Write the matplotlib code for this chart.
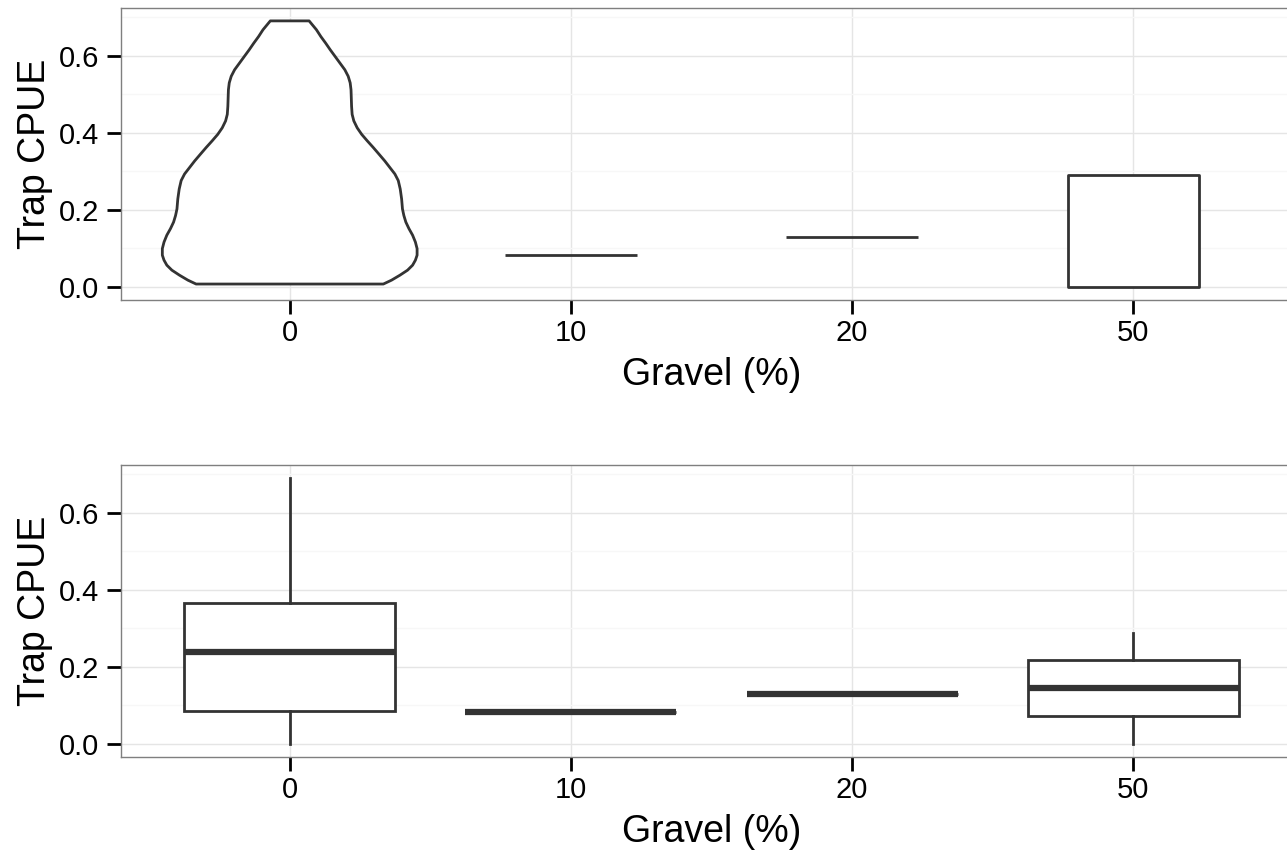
import numpy as np
import matplotlib
matplotlib.use("Agg")
import matplotlib.pyplot as plt
from matplotlib.ticker import MultipleLocator, FormatStrFormatter

# categories on the x axis
gravel = ["0", "10", "20", "50"]

# violin outlines: y values and half-widths (in category units)
violin_y = [
    [0.007, 0.017, 0.030, 0.043, 0.056, 0.069, 0.082, 0.099, 0.116, 0.134,
     0.151, 0.168, 0.185, 0.202, 0.228, 0.254, 0.276, 0.293, 0.310, 0.327,
     0.345, 0.362, 0.379, 0.396, 0.413, 0.431, 0.448, 0.469, 0.491, 0.512,
     0.530, 0.547, 0.564, 0.581, 0.599, 0.616, 0.633, 0.650, 0.668, 0.691],
    [0.083, 0.083],
    [0.129, 0.129],
    [0.0, 0.29],
]
violin_hw = [
    [0.333, 0.362, 0.392, 0.419, 0.437, 0.447, 0.453, 0.453, 0.447, 0.437,
     0.424, 0.413, 0.406, 0.401, 0.398, 0.393, 0.386, 0.374, 0.356, 0.338,
     0.317, 0.297, 0.276, 0.256, 0.240, 0.228, 0.222, 0.220, 0.219, 0.218,
     0.215, 0.208, 0.196, 0.179, 0.161, 0.144, 0.128, 0.111, 0.095, 0.069],
    [0.235, 0.235],
    [0.235, 0.235],
    [0.232, 0.232],
]

# boxplot statistics per gravel class
box_low = [0.0, 0.083, 0.128, 0.0]
box_q1 = [0.085, 0.083, 0.128, 0.073]
box_med = [0.239, 0.083, 0.128, 0.145]
box_q3 = [0.367, 0.083, 0.128, 0.217]
box_high = [0.690, 0.083, 0.128, 0.289]

plt.rcParams["font.family"] = ["Liberation Sans", "DejaVu Sans"]

ink = "#333333"
W, H = 1287, 851
fig = plt.figure(figsize=(W / 100, H / 100), dpi=100)

ax_top = fig.add_axes([121 / W, 1 - 300 / H, (1302 - 121) / W, (300 - 8) / H])
ax_bot = fig.add_axes([121 / W, 1 - 757 / H, (1302 - 121) / W, (757 - 465) / H])

positions = np.arange(1, len(gravel) + 1)


def style_axis(ax):
    ax.set_xlim(0.4, len(gravel) + 0.6)
    ax.set_ylim(-0.0345, 0.7245)
    ax.set_xticks(positions)
    ax.set_xticklabels(gravel)
    ax.yaxis.set_major_locator(MultipleLocator(0.2))
    ax.yaxis.set_minor_locator(MultipleLocator(0.1))
    ax.yaxis.set_major_formatter(FormatStrFormatter("%.1f"))
    ax.grid(True, which="major", color="#E5E5E5", linewidth=1.0)
    ax.grid(True, which="minor", axis="y", color="#F7F7F7", linewidth=1.0)
    ax.set_axisbelow(True)
    for s in ax.spines.values():
        s.set_color("#7F7F7F")
        s.set_linewidth(1.0)
    ax.tick_params(which="major", length=10, width=2.0, color="black",
                   labelsize=21, labelcolor="black")
    ax.tick_params(axis="y", pad=6)
    ax.tick_params(axis="x", pad=4)
    ax.tick_params(which="minor", length=0)
    ax.set_xlabel("Gravel (%)", fontsize=27, labelpad=7)
    ax.set_ylabel("Trap CPUE", fontsize=27, labelpad=4)


# top panel: violins
for pos, ys, hws in zip(positions, violin_y, violin_hw):
    ys = np.array(ys)
    hws = np.array(hws)
    xs = np.concatenate([pos - hws, (pos + hws)[::-1]])
    yy = np.concatenate([ys, ys[::-1]])
    ax_top.fill(xs, yy, facecolor="white", edgecolor=ink, linewidth=2.0,
                joinstyle="round", zorder=3)
style_axis(ax_top)

# bottom panel: boxplots
stats = []
for lo, q1, med, q3, hi in zip(box_low, box_q1, box_med, box_q3, box_high):
    stats.append({"whislo": lo, "q1": q1, "med": med, "q3": q3, "whishi": hi})
ax_bot.bxp(stats, positions=positions, widths=0.75, showfliers=False,
           showcaps=False, patch_artist=True,
           boxprops=dict(facecolor="white", edgecolor=ink, linewidth=2.0),
           whiskerprops=dict(color=ink, linewidth=2.0),
           medianprops=dict(color=ink, linewidth=4.5, solid_capstyle="butt"),
           zorder=3)
style_axis(ax_bot)

fig.savefig("out.png", dpi=100)
